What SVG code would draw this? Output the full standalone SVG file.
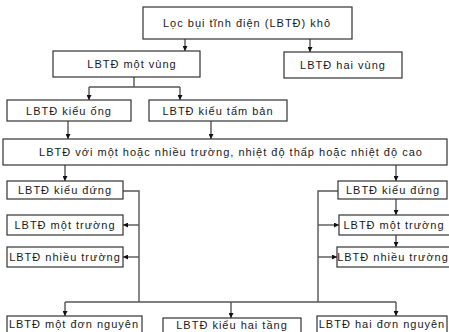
<svg xmlns="http://www.w3.org/2000/svg" width="449" height="332" viewBox="0 0 449 332">
<style>
.box{fill:#fff;stroke:#333;stroke-width:1.2}
.t{font-family:"Liberation Sans",Arial,sans-serif;font-size:11px;letter-spacing:1px;fill:#1a1a1a;text-anchor:middle;dominant-baseline:central}
.c{fill:none;stroke:#555;stroke-width:1.4}
.a{marker-end:url(#ah)}
</style>
<defs>
<marker id="ah" viewBox="0 0 6 6" refX="6" refY="3" markerWidth="5" markerHeight="5" markerUnits="userSpaceOnUse" orient="auto">
<path d="M0,0 L6,3 L0,6 z" fill="#111"/>
</marker>
</defs>
<rect width="449" height="332" fill="#fff"/>
<g id="connectors">
<path class="c a" d="M185,39 V51"/>
<path class="c a" d="M310,39 V52"/>
<path class="c" d="M134,77 V87 M89,87 H180"/>
<path class="c a" d="M89,87 V100"/>
<path class="c a" d="M180,87 V100"/>
<path class="c a" d="M68,121 V139"/>
<path class="c a" d="M211,121 V139"/>
<path class="c a" d="M65,165 V181"/>
<path class="c a" d="M396,165 V181"/>
<path class="c" d="M123,191 H139 V302 M65,302 H396"/>
<path class="c a" d="M139,225 H123"/>
<path class="c a" d="M139,257 H123"/>
<path class="c" d="M339,191 H318 V302"/>
<path class="c a" d="M318,225 H339"/>
<path class="c a" d="M318,257 H337"/>
<path class="c a" d="M396,199 V215"/>
<path class="c a" d="M396,235 V247"/>
<path class="c a" d="M65,302 V316"/>
<path class="c a" d="M231,302 V318"/>
<path class="c a" d="M396,302 V316"/>
</g>
<g id="n-root"><rect class="box" x="143" y="7" width="209" height="32"/><text class="t" x="247" y="23">Lọc bụi tĩnh điện (LBTĐ) khô</text></g>
<g id="n-motvung"><rect class="box" x="53" y="51" width="147" height="26"/><text class="t" x="132" y="64">LBTĐ một vùng</text></g>
<g id="n-haivung"><rect class="box" x="284" y="52" width="118" height="26"/><text class="t" x="343" y="65">LBTĐ hai vùng</text></g>
<g id="n-ong"><rect class="box" x="7" y="100" width="124" height="21"/><text class="t" x="69" y="110.5">LBTĐ kiểu ống</text></g>
<g id="n-tamban"><rect class="box" x="149" y="100" width="138" height="21"/><text class="t" x="218" y="110.5">LBTĐ kiểu tấm bản</text></g>
<g id="n-chung"><rect class="box" x="3" y="139" width="444" height="26"/><text class="t" x="231" y="152">LBTĐ với một hoặc nhiều trường, nhiệt độ thấp hoặc nhiệt độ cao</text></g>
<g id="n-dung-l"><rect class="box" x="7" y="181" width="116" height="18"/><text class="t" x="65" y="190">LBTĐ kiểu đứng</text></g>
<g id="n-mot-l"><rect class="box" x="7" y="215" width="116" height="20"/><text class="t" x="65" y="225">LBTĐ một trường</text></g>
<g id="n-nhieu-l"><rect class="box" x="7" y="247" width="116" height="20"/><text class="t" x="65" y="257">LBTĐ nhiều trường</text></g>
<g id="n-dung-r"><rect class="box" x="338" y="181" width="109" height="18"/><text class="t" x="393" y="190">LBTĐ kiểu đứng</text></g>
<g id="n-mot-r"><rect class="box" x="339" y="215" width="112" height="20"/><text class="t" x="394" y="225">LBTĐ một trường</text></g>
<g id="n-nhieu-r"><rect class="box" x="337" y="247" width="114" height="20"/><text class="t" x="393" y="257">LBTĐ nhiều trường</text></g>
<g id="n-motdon"><rect class="box" x="7" y="316" width="135" height="18"/><text class="t" x="74" y="324">LBTĐ một đơn nguyên</text></g>
<g id="n-haitang"><rect class="box" x="163" y="318" width="138" height="16"/><text class="t" x="232" y="325">LBTĐ kiểu hai tầng</text></g>
<g id="n-haidon"><rect class="box" x="317" y="316" width="130" height="18"/><text class="t" x="382" y="324">LBTĐ hai đơn nguyên</text></g>
</svg>
